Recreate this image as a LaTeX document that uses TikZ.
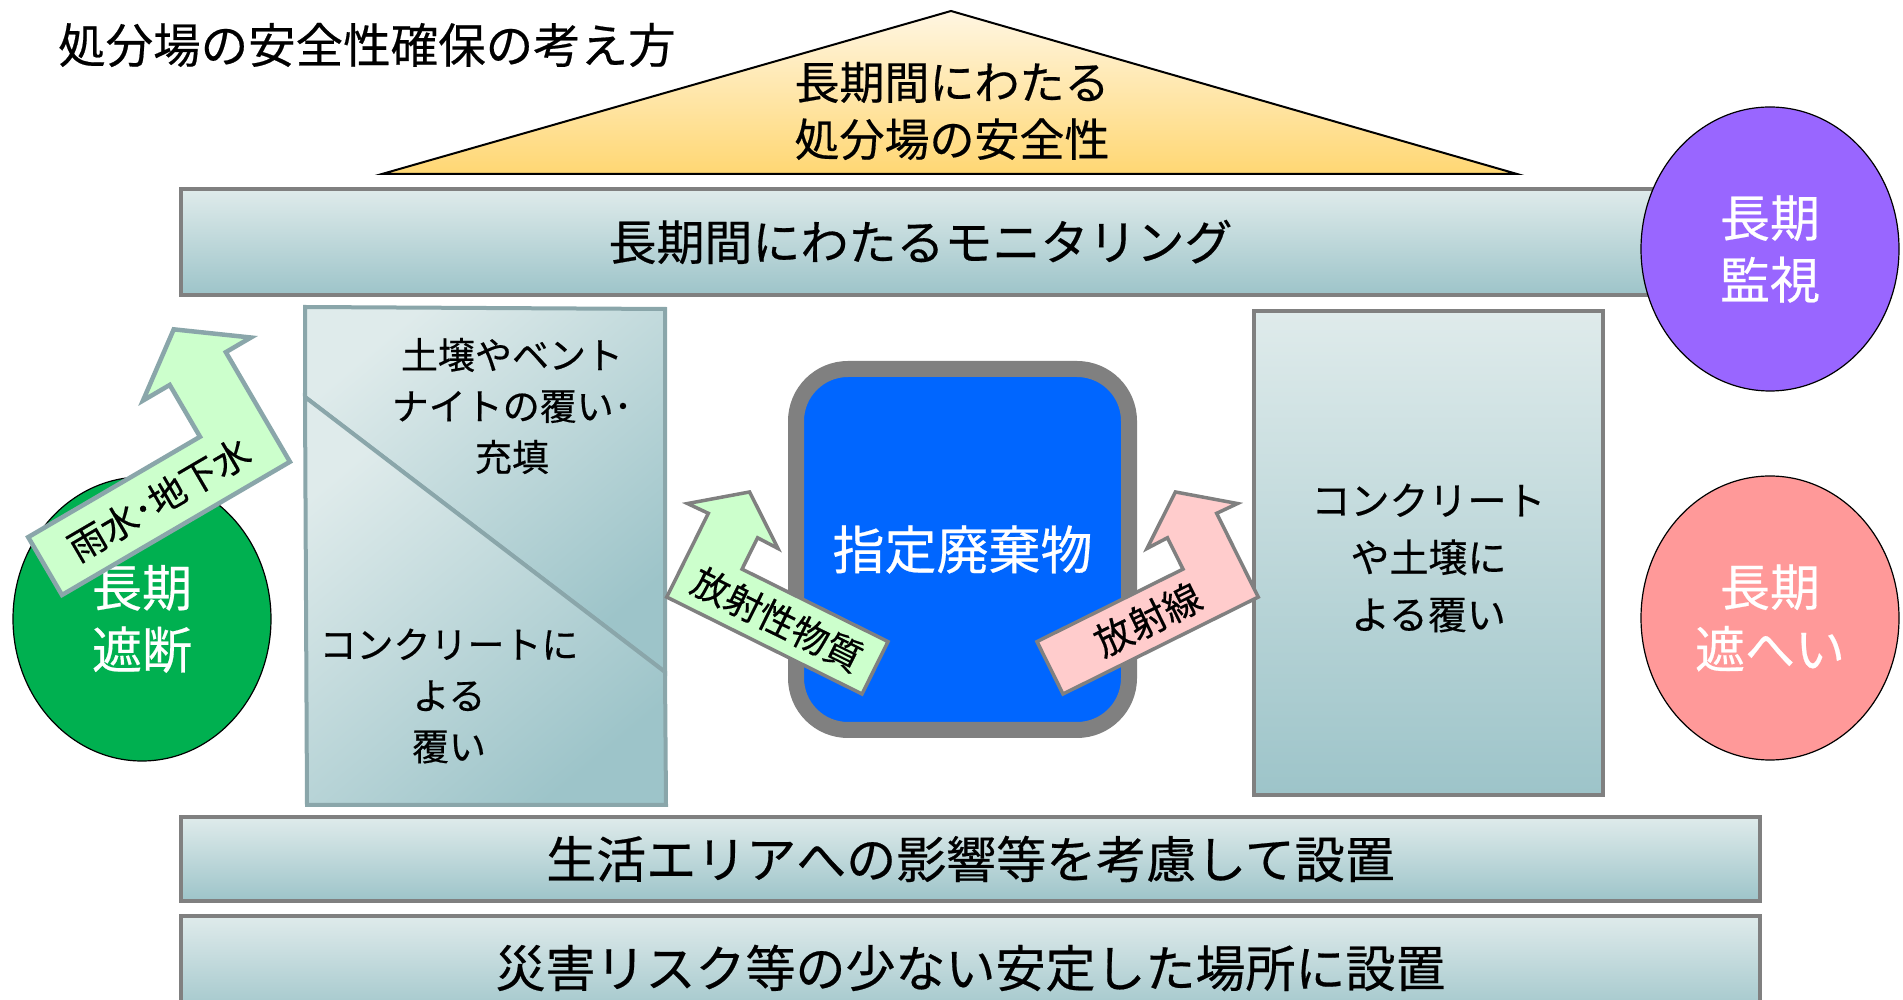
\documentclass[tikz,border=0pt]{standalone}
\usepackage{fontspec}
\setmainfont{Noto Sans CJK JP}[FakeBold=0.4]
\usetikzlibrary{shapes.geometric}
\definecolor{band1}{RGB}{223,235,235}
\definecolor{band2}{RGB}{157,196,201}
\definecolor{edge1}{RGB}{128,128,128}
\definecolor{edge2}{RGB}{138,166,170}
\definecolor{roof1}{RGB}{255,246,226}
\definecolor{roof2}{RGB}{255,215,115}
\definecolor{waste}{RGB}{0,102,255}
\definecolor{flow1}{RGB}{204,255,204}
\definecolor{flow2}{RGB}{255,204,204}
\definecolor{watch}{RGB}{153,102,255}
\definecolor{block}{RGB}{0,176,80}
\definecolor{shield}{RGB}{255,153,153}
\newcommand{\jfs}[2]{\fontsize{#1bp}{#2bp}\selectfont}

\begin{document}
\begin{tikzpicture}[x=1bp, y=1bp,
  band/.style={draw=edge1, line width=3.5bp, top color=band1, bottom color=band2, inner sep=0pt},
  ring/.style={ellipse, draw=black, line width=1.2bp, minimum width=258bp, minimum height=284bp, text=white, align=center, font=\jfs{50}{62}},
  flow/.style={draw=edge1, line width=3.5bp, line join=miter},
  txt/.style={inner sep=0pt, align=center}]
\useasboundingbox (0,0) rectangle (1903,999);

\node[band, minimum width=1579bp, minimum height=84bp, font=\jfs{50}{60}] (life) at (970.5,140) {生活エリアへの影響等を考慮して設置};
\node[band, minimum width=1579bp, minimum height=104bp, font=\jfs{50}{60}] (site) at (970.5,31) {災害リスク等の少ない安定した場所に設置};
\node[band, minimum width=1479bp, minimum height=106bp, font=\jfs{48}{58}] (monitor) at (920.5,757) {長期間にわたるモニタリング};

\path[draw=edge2, line width=4bp, top color=band1, bottom color=band2, shading angle=40] (305,692) -- (665,690) -- (665,327) -- (305,602) -- cycle;
\path[draw=edge2, line width=4bp, top color=band1, bottom color=band2, shading angle=40] (305,602) -- (665,327) -- (666,194) -- (307,194) -- cycle;
\node[txt, font=\jfs{37}{51}] (fill) at (512,593) {土壌やベント\\ナイトの覆い･\\充填};
\node[txt, font=\jfs{37}{51}] (cover) at (449,303) {コンクリートに\\よる\\覆い};

\node[band, minimum width=349bp, minimum height=484bp, font=\jfs{39}{57}, align=center] (shell) at (1428.5,446) {};
\node[txt, font=\jfs{39}{57}] (shelltext) at (1428.5,441) {コンクリート\\や土壌に\\よる覆い};

\node[draw=edge1, line width=16bp, fill=waste, rounded corners=52bp, minimum width=333bp, minimum height=361bp, text=white, font=\jfs{52}{60}] (waste) at (962.5,449.5) {指定廃棄物};

\node[ring, fill=block] (block) at (142,380) {長期\\遮断};
\node[ring, fill=watch] (watch) at (1770,750) {長期\\監視};
\node[ring, fill=shield] (shield) at (1770,381) {長期\\遮へい};

\begin{scope}[shift={(62,404)}, rotate=30.3]
\draw[flow, draw=edge2, line width=4.5bp, fill=flow1] (0,0) -- (264,0) -- (264,127) -- (293,127) -- (230.5,173) -- (168,127) -- (199,127) -- (199,67) -- (0,67) -- cycle;
\node[txt, rotate=30.3, font=\jfs{37}{40}] (rain) at (132,33.5) {雨水･地下水};
\end{scope}

\begin{scope}[shift={(862,305)}, xscale=-1, rotate=26.4]
\draw[flow, fill=flow1] (0,0) -- (218,0) -- (218,93.5) -- (241,93) -- (190.5,131) -- (140,93) -- (163,93.5) -- (163,58.5) -- (0,58.5) -- cycle;
\node[txt, rotate=-26.4, font=\jfs{37}{40}] (nuclide) at (109,29.25) {放射性物質};
\end{scope}

\begin{scope}[shift={(1063,305)}, rotate=26.4]
\draw[flow, fill=flow2] (0,0) -- (218,0) -- (218,93.5) -- (241,93) -- (190.5,131) -- (140,93) -- (163,93.5) -- (163,58.5) -- (0,58.5) -- cycle;
\node[txt, rotate=26.4, font=\jfs{38}{40}] (ray) at (109,29.25) {放射線};
\end{scope}

\draw[black, line width=2bp, top color=roof1, bottom color=roof2] (382,825) -- (951,988) -- (1517,825) -- cycle;
\node[txt, font=\jfs{45}{57}] (roof) at (952,888) {長期間にわたる\\処分場の安全性};

\node[txt, anchor=west, font=\jfs{47.5}{56}] (title) at (58,954) {処分場の安全性確保の考え方};
\end{tikzpicture}
\end{document}
